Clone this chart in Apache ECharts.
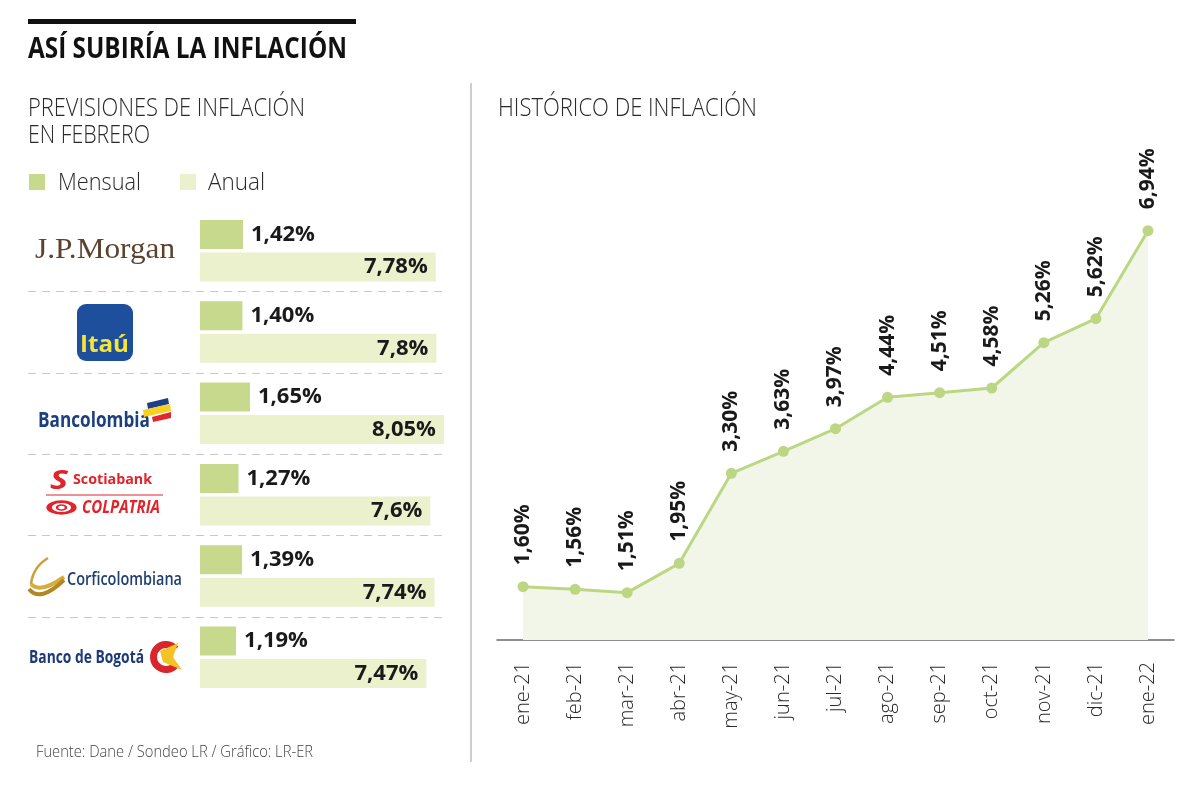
<!DOCTYPE html>
<html><head><meta charset="utf-8">
<script src="https://cdn.jsdelivr.net/npm/echarts/dist/echarts.min.js"></script>
<style>html,body{margin:0;padding:0;background:#fff}#c{width:1200px;height:789px}</style>
</head><body><div id="c"></div>
<script>
// ---------- DATA ----------
const banks = ['J.P.Morgan', 'Itaú', 'Bancolombia', 'Scotiabank Colpatria', 'Corficolombiana', 'Banco de Bogotá'];
const mensual = [1.42, 1.40, 1.65, 1.27, 1.39, 1.19];
const anual = [7.78, 7.8, 8.05, 7.6, 7.74, 7.47];
const months = ['ene-21', 'feb-21', 'mar-21', 'abr-21', 'may-21', 'jun-21', 'jul-21', 'ago-21', 'sep-21', 'oct-21', 'nov-21', 'dic-21', 'ene-22'];
const historico = [1.60, 1.56, 1.51, 1.95, 3.30, 3.63, 3.97, 4.44, 4.51, 4.58, 5.26, 5.62, 6.94];

// ---------- HELPERS ----------
const FONT = '"Open Sans", "Noto Sans", sans-serif';
const mctx = document.createElement('canvas').getContext('2d');
function fit(text, x, y, font, w, fill, extra) {
  mctx.font = font;
  const mw = mctx.measureText(text).width || w;
  return Object.assign({
    type: 'text', x: x, y: y, scaleX: w / mw, silent: true,
    style: { text: text, font: font, fill: fill, verticalAlign: 'middle', align: 'left' }
  }, extra || {});
}
const comma = v => String(v).replace('.', ',');

const chart = echarts.init(document.getElementById('c'), null, { renderer: 'canvas' });

const leftTop = 210, leftH = 488;
const band = leftH / banks.length;
const graphics = [];
// top black bar & title
graphics.push({ type: 'rect', shape: { x: 28, y: 19, width: 328, height: 5 }, style: { fill: '#111' }, silent: true });
graphics.push(fit('ASÍ SUBIRÍA LA INFLACIÓN', 28, 50, 'bold 29px ' + FONT, 319, '#111'));
graphics.push(fit('PREVISIONES DE INFLACIÓN', 28, 109, '300 25px ' + FONT, 277, '#2a2a2a'));
graphics.push(fit('EN FEBRERO', 28, 136, '300 25px ' + FONT, 122, '#2a2a2a'));
graphics.push(fit('HISTÓRICO DE INFLACIÓN', 498, 109, '300 25px ' + FONT, 259, '#2a2a2a'));
// legend
graphics.push({ type: 'rect', shape: { x: 29, y: 174, width: 16, height: 16 }, style: { fill: '#c6d98c' }, silent: true });
graphics.push(fit('Mensual', 58, 183, '300 24px ' + FONT, 83, '#2a2a2a'));
graphics.push({ type: 'rect', shape: { x: 180, y: 174, width: 16, height: 16 }, style: { fill: '#ebf0cd' }, silent: true });
graphics.push(fit('Anual', 208, 183, '300 24px ' + FONT, 57, '#2a2a2a'));
// divider
graphics.push({ type: 'line', shape: { x1: 471, y1: 83, x2: 471, y2: 762 }, style: { stroke: '#bdbdbd', lineWidth: 1.5 }, silent: true });
// dashed separators
for (let i = 1; i < banks.length; i++) {
  const y = Math.round(leftTop + band * i) + 0.5;
  graphics.push({ type: 'line', shape: { x1: 28, y1: y, x2: 444, y2: y }, style: { stroke: '#c8c8c8', lineWidth: 1.2, lineDash: [8, 6] }, silent: true });
}
// footnote
graphics.push(fit('Fuente: Dane / Sondeo LR / Gráfico: LR-ER', 36, 752, '300 16px ' + FONT, 277, '#444'));

// ---------- LOGOS ----------
// J.P.Morgan
graphics.push(fit('J.P.Morgan', 35, 250, '29px "Liberation Serif", "DejaVu Serif", serif', 140, '#5b4330'));
// Itaú
graphics.push({ type: 'rect', shape: { x: 77, y: 304, width: 56, height: 57, r: 9 }, style: { fill: '#1d4f9c' }, silent: true });
graphics.push(fit('Itaú', 80, 345, 'bold 24px ' + FONT, 49, '#f4e53a'));
// Bancolombia
graphics.push(fit('Bancolombia', 38, 421, 'bold 21px ' + FONT, 112, '#1b3f7f'));
graphics.push({ type: 'polygon', shape: { points: [[147, 403], [168, 398], [169, 404], [148, 409]] }, style: { fill: '#1c3f86' }, silent: true });
graphics.push({ type: 'polygon', shape: { points: [[143, 410], [170, 404], [171, 411], [144, 417]] }, style: { fill: '#f6cf1f' }, silent: true });
graphics.push({ type: 'polygon', shape: { points: [[152, 417], [171, 412], [171, 418], [153, 422]] }, style: { fill: '#e0262e' }, silent: true });
// Scotiabank Colpatria
graphics.push(fit('S', 50, 482, 'bold italic 26px ' + FONT, 18, '#e1232b'));
graphics.push(fit('Scotiabank', 73, 480, 'bold 15px ' + FONT, 79, '#e1232b'));
graphics.push({ type: 'line', shape: { x1: 46, y1: 495, x2: 163, y2: 495 }, style: { stroke: '#e1232b', lineWidth: 1 }, silent: true });
graphics.push({ type: 'ring', x: 61.5, y: 507.5, scaleX: 2.1, shape: { cx: 0, cy: 0, r: 7.2, r0: 4.6 }, style: { fill: '#e1232b' }, silent: true });
graphics.push({ type: 'ring', x: 61.5, y: 507.5, scaleX: 1.8, shape: { cx: 0, cy: 0, r: 3.2, r0: 1.8 }, style: { fill: '#e1232b' }, silent: true });
graphics.push(fit('COLPATRIA', 82, 508, 'italic bold 17px ' + FONT, 78, '#e1232b'));
// Corficolombiana
graphics.push({ type: 'bezierCurve', shape: { x1: 48, y1: 558, x2: 31, y2: 584, cpx1: 33, cpy1: 567 }, style: { stroke: '#c9a03a', lineWidth: 2.5, fill: null }, silent: true });
graphics.push({ type: 'bezierCurve', shape: { x1: 31, y1: 584, x2: 64, y2: 577, cpx1: 40, cpy1: 594 }, style: { stroke: '#d6ad3c', lineWidth: 4, fill: null }, silent: true });
graphics.push({ type: 'bezierCurve', shape: { x1: 29, y1: 589, x2: 64, y2: 580, cpx1: 40, cpy1: 603 }, style: { stroke: '#b38824', lineWidth: 4, fill: null }, silent: true });
graphics.push(fit('Corficolombiana', 67, 580, '600 18px ' + FONT, 115, '#1f3f6e'));
// Banco de Bogotá
graphics.push(fit('Banco de Bogotá', 29, 658, 'bold 17px ' + FONT, 115, '#1c3a78'));
graphics.push({ type: 'sector', shape: { cx: 166, cy: 657, r: 16, r0: 9, startAngle: Math.PI * 0.22, endAngle: Math.PI * 1.78, clockwise: true }, style: { fill: '#d8262c' }, silent: true });
graphics.push({ type: 'polygon', shape: { points: [[160, 651], [178, 643], [173, 657], [182, 670], [163, 662]] }, style: { fill: '#f3c224' }, silent: true });

const option = {
  animation: false,
  backgroundColor: '#fff',
  textStyle: { fontFamily: FONT },
  graphic: graphics,
  grid: [
    { left: 200, top: leftTop, width: 303, height: leftH },
    { left: 497, top: 160, width: 677, height: 480 }
  ],
  xAxis: [
    { gridIndex: 0, type: 'value', min: 0, max: 10, show: false },
    {
      gridIndex: 1, type: 'category', data: months, boundaryGap: true,
      axisLine: { lineStyle: { color: '#6a6a6a', width: 1.5 } },
      axisTick: { inside: true, length: 12, lineStyle: { color: '#6a6a6a', width: 1.2 } },
      axisLabel: { rotate: 90, margin: 22, fontSize: 20, fontWeight: 300, color: '#2a2a2a', fontFamily: FONT },
      splitLine: { show: false }
    }
  ],
  yAxis: [
    { gridIndex: 0, type: 'category', data: banks, inverse: true, show: false },
    { gridIndex: 1, type: 'value', min: 0.8, max: 8, show: false, splitLine: { show: false } }
  ],
  series: [
    {
      type: 'bar', name: 'Mensual', xAxisIndex: 0, yAxisIndex: 0, data: mensual,
      barWidth: 29, barGap: '12%', itemStyle: { color: '#c6d98c' }, silent: true,
      label: { show: true, position: 'right', distance: 8, fontSize: 22, fontWeight: 'bold', color: '#1a1a1a', fontFamily: FONT,
        formatter: p => p.value.toFixed(2).replace('.', ',') + '%' }
    },
    {
      type: 'bar', name: 'Anual', xAxisIndex: 0, yAxisIndex: 0, data: anual,
      barWidth: 29, barGap: '12%', itemStyle: { color: '#ebf0cd' }, silent: true,
      label: { show: true, position: 'insideRight', distance: 8, fontSize: 22, fontWeight: 'bold', color: '#1a1a1a', fontFamily: FONT,
        formatter: p => comma(p.value) + '%' }
    },
    {
      type: 'line', xAxisIndex: 1, yAxisIndex: 1, data: historico, silent: true,
      symbol: 'circle', symbolSize: 11,
      lineStyle: { color: '#bdd684', width: 3 },
      itemStyle: { color: '#bdd684' },
      areaStyle: { color: '#f1f6e9', opacity: 1 },
      label: { show: true, position: 'top', distance: 16, rotate: 90, align: 'left', verticalAlign: 'middle',
        fontSize: 21, fontWeight: 'bold', color: '#1a1a1a', fontFamily: FONT,
        formatter: p => p.value.toFixed(2).replace('.', ',') + '%' }
    }
  ]
};
chart.setOption(option);
</script>
</body></html>
